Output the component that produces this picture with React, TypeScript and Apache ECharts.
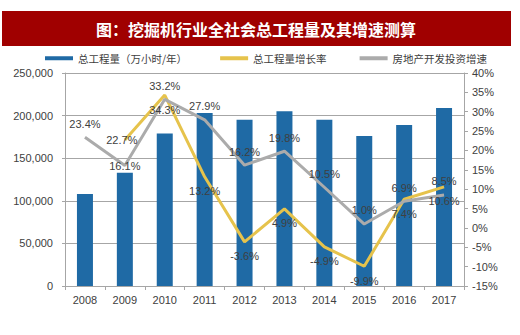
import React, { useEffect, useRef } from "react";
import * as echarts from "echarts";

const years = ["2008", "2009", "2010", "2011", "2012", "2013", "2014", "2015", "2016", "2017"];
const totalWork = [108000, 133000, 179000, 203000, 195000, 205000, 195000, 176000, 189000, 209000];
const workGrowth = [null, 22.7, 34.3, 13.2, -3.6, 4.9, -4.9, -9.9, 7.4, 10.6];
const realEstateGrowth = [23.4, 16.1, 33.2, 27.9, 16.2, 19.8, 10.5, 1.0, 6.9, 8.5];
const seriesNames = ["总工程量（万小时/年）", "总工程量增长率", "房地产开发投资增速"];
const titleText = "图：挖掘机行业全社会总工程量及其增速测算";

const TXT = "#404040";
const AX = "#A6A6A6";
const FONT = "'Liberation Sans', Arial, sans-serif";

export default function App() {
  const ref = useRef<HTMLDivElement>(null);
  useEffect(() => {
    if (!ref.current) return;
    const chart = echarts.init(ref.current, null, { renderer: "svg" });
    const fmt = (p: any) => (p.value == null ? "" : Number(p.value).toFixed(1) + "%");
    const yellowData = workGrowth.map((v, i) =>
      i === 1
        ? { value: v, label: { position: "inside", offset: [-3, 0] } }
        : v
    );
    const grayData = realEstateGrowth.map((v, i) =>
      i === 1 ? { value: v, label: { position: "inside", offset: [0, 0] } } : v
    );
    chart.setOption({
      animation: false,
      graphic: [
        { type: "rect", shape: { x: 2, y: 11, width: 509, height: 35 }, style: { fill: "#A00000" }, z: 10 },
        {
          type: "text",
          x: 256,
          y: 29,
          z: 11,
          style: {
            text: titleText,
            fill: "#fff",
            font: "bold 16px 'Noto Sans CJK SC'",
            textAlign: "center",
            textVerticalAlign: "middle",
          },
        },
      ],
      legend: {
        left: 45,
        top: 53,
        padding: 0,
        itemWidth: 28,
        itemHeight: 4,
        itemGap: 33,
        icon: "rect",
        textStyle: { fontFamily: "'Noto Sans CJK SC'", fontSize: 10.5, color: TXT },
        data: seriesNames,
      },
      grid: { left: 65, right: 56, top: 73, bottom: 49, containLabel: false },
      xAxis: {
        type: "category",
        data: years,
        boundaryGap: true,
        axisLine: { lineStyle: { color: AX } },
        axisTick: { show: true, length: 4, lineStyle: { color: AX } },
        axisLabel: { color: TXT, fontFamily: FONT, fontSize: 11, margin: 8 },
      },
      yAxis: [
        {
          type: "value",
          min: 0,
          max: 250000,
          interval: 50000,
          axisLine: { show: true, lineStyle: { color: AX } },
          axisTick: { show: true, length: 3, lineStyle: { color: AX } },
          splitLine: { lineStyle: { color: AX } },
          axisLabel: {
            color: TXT,
            fontFamily: FONT,
            fontSize: 11,
            margin: 12,
            formatter: (v: number) => v.toLocaleString("en-US"),
          },
        },
        {
          type: "value",
          min: -15,
          max: 40,
          interval: 5,
          position: "right",
          axisLine: { show: true, lineStyle: { color: AX } },
          axisTick: { show: true, length: 4, lineStyle: { color: AX } },
          splitLine: { show: false },
          axisLabel: { color: TXT, fontFamily: FONT, fontSize: 11, margin: 8, formatter: "{value}%" },
        },
      ],
      series: [
        {
          name: seriesNames[0],
          type: "bar",
          data: totalWork,
          barWidth: 16,
          itemStyle: { color: "#1F6AA5" },
        },
        {
          name: seriesNames[1],
          type: "line",
          yAxisIndex: 1,
          data: yellowData,
          symbol: "circle",
          symbolSize: 0.1,
          showSymbol: true,
          lineStyle: { color: "#E6C34C", width: 3 },
          itemStyle: { color: "#E6C34C" },
          label: {
            show: true,
            position: "bottom",
            distance: 9,
            color: TXT,
            fontFamily: FONT,
            fontSize: 11,
            formatter: fmt,
          },
        },
        {
          name: seriesNames[2],
          type: "line",
          yAxisIndex: 1,
          data: grayData,
          symbol: "circle",
          symbolSize: 0.1,
          showSymbol: true,
          lineStyle: { color: "#ABABAB", width: 3 },
          itemStyle: { color: "#ABABAB" },
          label: {
            show: true,
            position: "top",
            distance: 8,
            color: TXT,
            fontFamily: FONT,
            fontSize: 11,
            formatter: fmt,
          },
        },
      ],
    });
    return () => chart.dispose();
  }, []);
  return (
    <div
      ref={ref}
      style={{ position: "fixed", left: 0, top: 0, width: 520, height: 335, background: "#fff" }}
    />
  );
}
